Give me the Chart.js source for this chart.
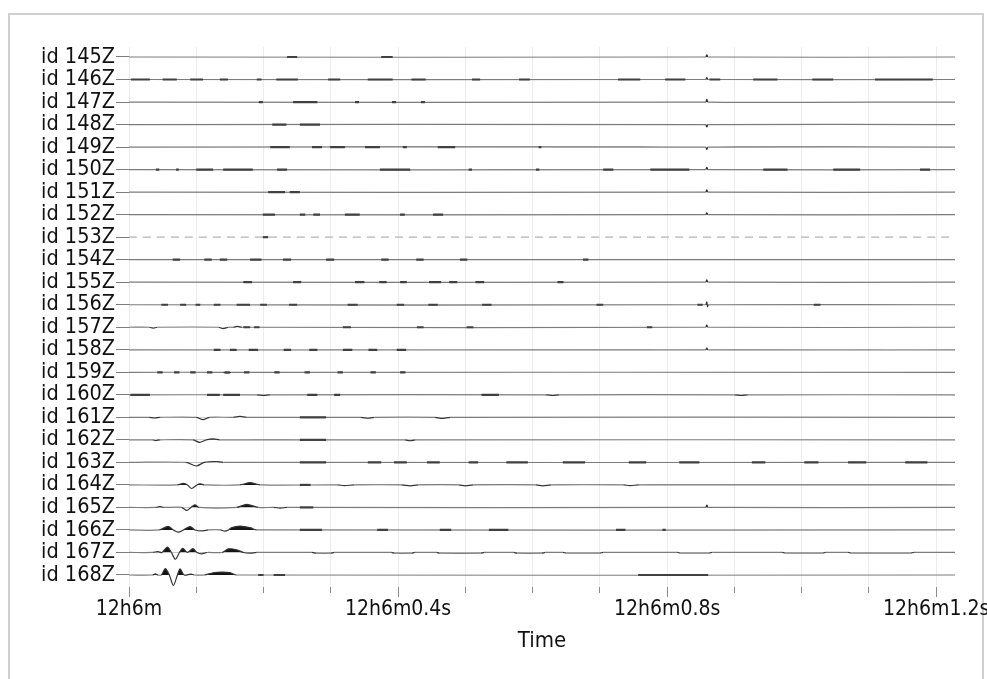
<!DOCTYPE html>
<html>
<head>
<meta charset="utf-8">
<script src="https://cdn.jsdelivr.net/npm/chart.js@4.4.1/dist/chart.umd.min.js"></script>
<style>
  html, body { margin: 0; padding: 0; background: #fff; }
  #frame { position: absolute; left: 8px; top: 13px; width: 972px; height: 690px;
           border: 2px solid #cfcfcf; border-bottom: none; }
  #wrap { position: absolute; left: 0; top: 0; width: 987px; height: 679px; }
</style>
</head>
<body>
<div id="frame"></div>
<div id="wrap"><canvas id="myChart" width="987" height="679"></canvas></div>
<script>
// stations, top to bottom
const channels = ['id 145Z', 'id 146Z', 'id 147Z', 'id 148Z', 'id 149Z', 'id 150Z', 'id 151Z', 'id 152Z',
  'id 153Z', 'id 154Z', 'id 155Z', 'id 156Z', 'id 157Z', 'id 158Z', 'id 159Z', 'id 160Z',
  'id 161Z', 'id 162Z', 'id 163Z', 'id 164Z', 'id 165Z', 'id 166Z', 'id 167Z', 'id 168Z'];

// time axis (seconds after 12h6m)
const tEnd = 1.228;
const majorTimes = [0, 0.4, 0.8, 1.2];
const timeLabels = ['12h6m', '12h6m0.4s', '12h6m0.8s', '12h6m1.2s'];

// waveform samples per trace: time, amplitude (1 = trace spacing)
const wiggles = [
  [0.857, 0, 0.859, 0.1, 0.861, 0],
  [0.857, 0, 0.859, 0.08, 0.861, 0],
  [0.857, 0, 0.859, 0.12, 0.861, 0],
  [0.857, 0, 0.859, -0.1, 0.861, 0],
  [0.857, 0, 0.859, -0.1, 0.861, 0],
  [0.857, 0, 0.859, 0.1, 0.861, 0],
  [0.857, 0, 0.859, 0.1, 0.861, 0],
  [0.857, 0, 0.859, 0.08, 0.861, 0],
  [],
  [],
  [0.857, 0, 0.859, 0.1, 0.861, 0],
  [0.857, 0, 0.859, 0.12, 0.860, -0.08, 0.862, 0],
  [0.030, 0, 0.036, -0.04, 0.042, 0, 0.133, 0, 0.140, -0.06, 0.148, 0, 0.155, 0, 0.161, 0.04, 0.168, 0,
   0.857, 0, 0.859, 0.1, 0.861, 0],
  [0.857, 0, 0.859, 0.08, 0.861, 0],
  [0.140, 0, 0.146, -0.03, 0.152, 0],
  [0.190, 0, 0.200, -0.03, 0.210, 0, 0.620, 0, 0.630, -0.03, 0.640, 0, 0.900, 0, 0.910, -0.03, 0.920, 0],
  [0.030, 0, 0.038, -0.03, 0.046, 0, 0.100, 0, 0.110, -0.1, 0.120, 0, 0.155, 0, 0.165, 0.04, 0.175, 0,
   0.345, 0, 0.355, -0.04, 0.365, 0, 0.455, 0, 0.465, -0.05, 0.478, 0],
  [0.035, 0, 0.040, -0.03, 0.046, 0, 0.095, 0, 0.105, -0.11, 0.115, 0, 0.125, 0.04, 0.135, 0,
   0.410, 0, 0.418, -0.04, 0.426, 0],
  [0.085, 0, 0.100, -0.16, 0.112, 0, 0.130, 0.04, 0.140, 0],
  [0.072, 0, 0.081, 0.07, 0.087, 0, 0.093, -0.16, 0.101, 0, 0.106, 0.05, 0.112, 0, 0.165, 0, 0.180, 0.1, 0.195, 0,
   0.310, 0, 0.320, -0.03, 0.335, 0, 0.405, 0, 0.418, -0.04, 0.430, 0, 0.490, 0, 0.500, -0.04, 0.512, 0,
   0.605, 0, 0.615, -0.04, 0.628, 0, 0.735, 0, 0.745, -0.03, 0.758, 0],
  [0.040, 0, 0.046, 0.04, 0.052, 0, 0.078, 0, 0.086, -0.13, 0.092, 0, 0.098, 0.12, 0.104, 0,
   0.160, 0, 0.175, 0.14, 0.192, 0, 0.215, 0, 0.225, -0.03, 0.235, 0, 0.857, 0, 0.859, 0.1, 0.861, 0],
  [0.045, 0, 0.058, 0.16, 0.066, 0, 0.073, -0.1, 0.081, 0, 0.091, 0.15, 0.098, 0, 0.110, -0.04, 0.118, 0,
   0.136, 0, 0.142, -0.05, 0.148, 0, 0.152, 0.1, 0.165, 0.17, 0.180, 0.1, 0.190, 0],
  [0.035, 0, 0.043, 0.04, 0.049, 0, 0.057, 0.24, 0.063, 0, 0.069, -0.3, 0.075, 0, 0.080, 0.18, 0.087, 0,
   0.095, 0.17, 0.101, 0, 0.108, -0.06, 0.116, 0, 0.138, 0, 0.148, 0.16, 0.160, 0.12, 0.170, 0,
   0.180, -0.03, 0.190, 0, 0.272, 0, 0.278, -0.03, 0.300, -0.03, 0.305, 0, 0.390, 0, 0.395, -0.03,
   0.420, -0.03, 0.425, 0, 0.457, 0, 0.462, -0.03, 0.523, -0.03, 0.528, 0, 0.572, 0, 0.577, -0.03,
   0.614, -0.03, 0.619, 0, 0.645, 0, 0.650, -0.025, 0.700, -0.025, 0.705, 0, 0.815, 0, 0.820, -0.025,
   0.862, -0.025, 0.867, 0, 0.971, 0, 0.976, -0.025, 1.031, -0.025, 1.036, 0, 1.069, 0, 1.074, -0.025,
   1.162, -0.025, 1.167, 0],
  [0.035, 0, 0.039, 0.05, 0.043, 0, 0.048, 0, 0.054, 0.28, 0.060, 0, 0.066, -0.46, 0.072, 0, 0.076, 0.27,
   0.082, 0, 0.092, 0.04, 0.097, 0, 0.112, 0, 0.125, 0.1, 0.138, 0.13, 0.150, 0.11, 0.160, 0]
];

// short high-frequency bursts per trace: start, end
const noise = [
  [0.235, 0.250, 0.375, 0.392],
  [0.003, 0.031, 0.050, 0.071, 0.091, 0.110, 0.135, 0.147, 0.190, 0.197, 0.219, 0.251, 0.296, 0.314,
   0.355, 0.392, 0.420, 0.441, 0.510, 0.522, 0.580, 0.596, 0.727, 0.760, 0.797, 0.827, 0.863, 0.879,
   0.928, 0.964, 1.016, 1.047, 1.109, 1.195],
  [0.193, 0.199, 0.244, 0.280, 0.336, 0.342, 0.391, 0.397, 0.434, 0.440],
  [0.213, 0.234, 0.254, 0.284],
  [0.210, 0.239, 0.272, 0.287, 0.299, 0.321, 0.351, 0.373, 0.407, 0.413, 0.459, 0.485, 0.609, 0.613],
  [0.040, 0.045, 0.070, 0.074, 0.100, 0.125, 0.140, 0.184, 0.220, 0.235, 0.373, 0.418, 0.505, 0.510,
   0.605, 0.610, 0.705, 0.720, 0.775, 0.833, 0.943, 0.979, 1.047, 1.087, 1.176, 1.191],
  [0.207, 0.232, 0.239, 0.254],
  [0.199, 0.217, 0.254, 0.262, 0.274, 0.284, 0.321, 0.343, 0.403, 0.410, 0.452, 0.467],
  [0.199, 0.207],
  [0.065, 0.076, 0.112, 0.123, 0.135, 0.146, 0.180, 0.197, 0.229, 0.241, 0.293, 0.305, 0.375, 0.386,
   0.427, 0.438, 0.492, 0.503, 0.675, 0.683],
  [0.170, 0.183, 0.244, 0.256, 0.336, 0.350, 0.372, 0.383, 0.403, 0.413, 0.446, 0.464, 0.476, 0.488,
   0.515, 0.528, 0.637, 0.646],
  [0.048, 0.058, 0.076, 0.085, 0.099, 0.106, 0.126, 0.136, 0.160, 0.180, 0.195, 0.205, 0.238, 0.250,
   0.325, 0.340, 0.398, 0.409, 0.445, 0.459, 0.525, 0.539, 0.695, 0.705, 0.845, 0.853, 1.018, 1.028],
  [0.170, 0.180, 0.186, 0.194, 0.318, 0.330, 0.428, 0.438, 0.502, 0.512, 0.770, 0.778],
  [0.126, 0.136, 0.150, 0.160, 0.178, 0.192, 0.230, 0.241, 0.268, 0.280, 0.318, 0.332, 0.356, 0.369,
   0.398, 0.412],
  [0.042, 0.050, 0.067, 0.075, 0.091, 0.099, 0.116, 0.124, 0.142, 0.150, 0.171, 0.179, 0.216, 0.224,
   0.261, 0.269, 0.310, 0.318, 0.359, 0.367, 0.403, 0.411],
  [0.002, 0.031, 0.116, 0.135, 0.140, 0.165, 0.265, 0.280, 0.305, 0.314, 0.524, 0.550],
  [0.254, 0.293],
  [0.254, 0.293],
  [0.254, 0.293, 0.355, 0.375, 0.394, 0.413, 0.443, 0.462, 0.505, 0.519, 0.561, 0.593, 0.645, 0.678,
   0.743, 0.769, 0.818, 0.848, 0.926, 0.946, 1.004, 1.025, 1.069, 1.096, 1.154, 1.187],
  [0.254, 0.270],
  [0.254, 0.274],
  [0.254, 0.287, 0.369, 0.385, 0.462, 0.479, 0.535, 0.564, 0.724, 0.738, 0.793, 0.798],
  [],
  [0.192, 0.200, 0.215, 0.232, 0.757, 0.861]
];

const font = 'DejaVu Sans Condensed, DejaVu Sans, sans-serif';
const traceColor = '#7c7c7c';
const waveColor = '#333';

const datasets = [];
channels.forEach((ch, i) => {
  const pos = channels.length - 1 - i;
  const w = wiggles[i];
  const pts = [{ x: 0, y: pos }];
  for (let k = 0; k < w.length; k += 2) pts.push({ x: w[k], y: pos + w[k + 1] });
  pts.push({ x: tEnd, y: pos });
  const dead = ch === 'id 153Z';
  datasets.push({
    label: ch,
    data: pts,
    order: 2,
    borderColor: dead ? '#b4b4b4' : traceColor,
    borderWidth: 1.2,
    borderDash: dead ? [8, 6] : [],
    pointRadius: 0,
    tension: 0.3,
    fill: { target: { value: pos }, above: '#151515', below: 'rgba(0,0,0,0)' },
    segment: {
      borderColor: ctx => ctx.p0.parsed.y !== ctx.p1.parsed.y ? waveColor : undefined
    }
  });
  const n = noise[i];
  const npts = [];
  for (let k = 0; k < n.length; k += 2) {
    npts.push({ x: n[k], y: pos }, { x: n[k + 1], y: pos }, { x: n[k + 1], y: null });
  }
  datasets.push({
    label: ch + ' burst',
    data: npts,
    order: 1,
    borderColor: '#404040',
    borderWidth: 2.2,
    pointRadius: 0,
    spanGaps: false,
    fill: false
  });
});

const isMajor = v => Math.abs(v * 10 - Math.round(v * 10)) < 1e-6 && Math.round(v * 10) % 4 === 0;

new Chart(document.getElementById('myChart').getContext('2d'), {
  type: 'line',
  data: { datasets },
  options: {
    responsive: false,
    animation: false,
    events: [],
    layout: { padding: { top: 47, right: 32, left: 0, bottom: 0 } },
    plugins: { legend: { display: false }, tooltip: { enabled: false } },
    scales: {
      x: {
        type: 'linear',
        min: 0,
        max: tEnd,
        border: { display: false },
        grid: {
          color: '#ececec',
          tickLength: 10,
          tickColor: '#8a8a8a',
          tickBorderDash: ctx => isMajor(ctx.tick.value) ? [] : [6, 20]
        },
        ticks: {
          stepSize: 0.1,
          includeBounds: false,
          autoSkip: false,
          maxRotation: 0,
          padding: 0,
          color: '#111',
          font: { family: font, size: 21 },
          callback: v => {
            if (!isMajor(v)) return '';
            return timeLabels[majorTimes.indexOf(Math.round(v * 10) / 10)];
          }
        },
        title: {
          display: true,
          text: 'Time',
          color: '#111',
          font: { family: font, size: 22 },
          padding: { top: 0, bottom: 25 }
        },
        afterFit: s => { s.height = 92; s.paddingLeft = 0; s.paddingRight = 0; }
      },
      y: {
        type: 'linear',
        min: -0.533,
        max: 23.444,
        border: { display: false },
        grid: { drawOnChartArea: false, tickLength: 13, tickColor: traceColor },
        ticks: {
          stepSize: 1,
          includeBounds: false,
          autoSkip: false,
          padding: 1,
          color: '#111',
          font: { family: font, size: 21.5 },
          callback: v => channels[channels.length - 1 - Math.round(v)]
        },
        afterFit: s => { s.width = 129; s.paddingTop = 0; s.paddingBottom = 0; }
      }
    }
  }
});
</script>
</body>
</html>
